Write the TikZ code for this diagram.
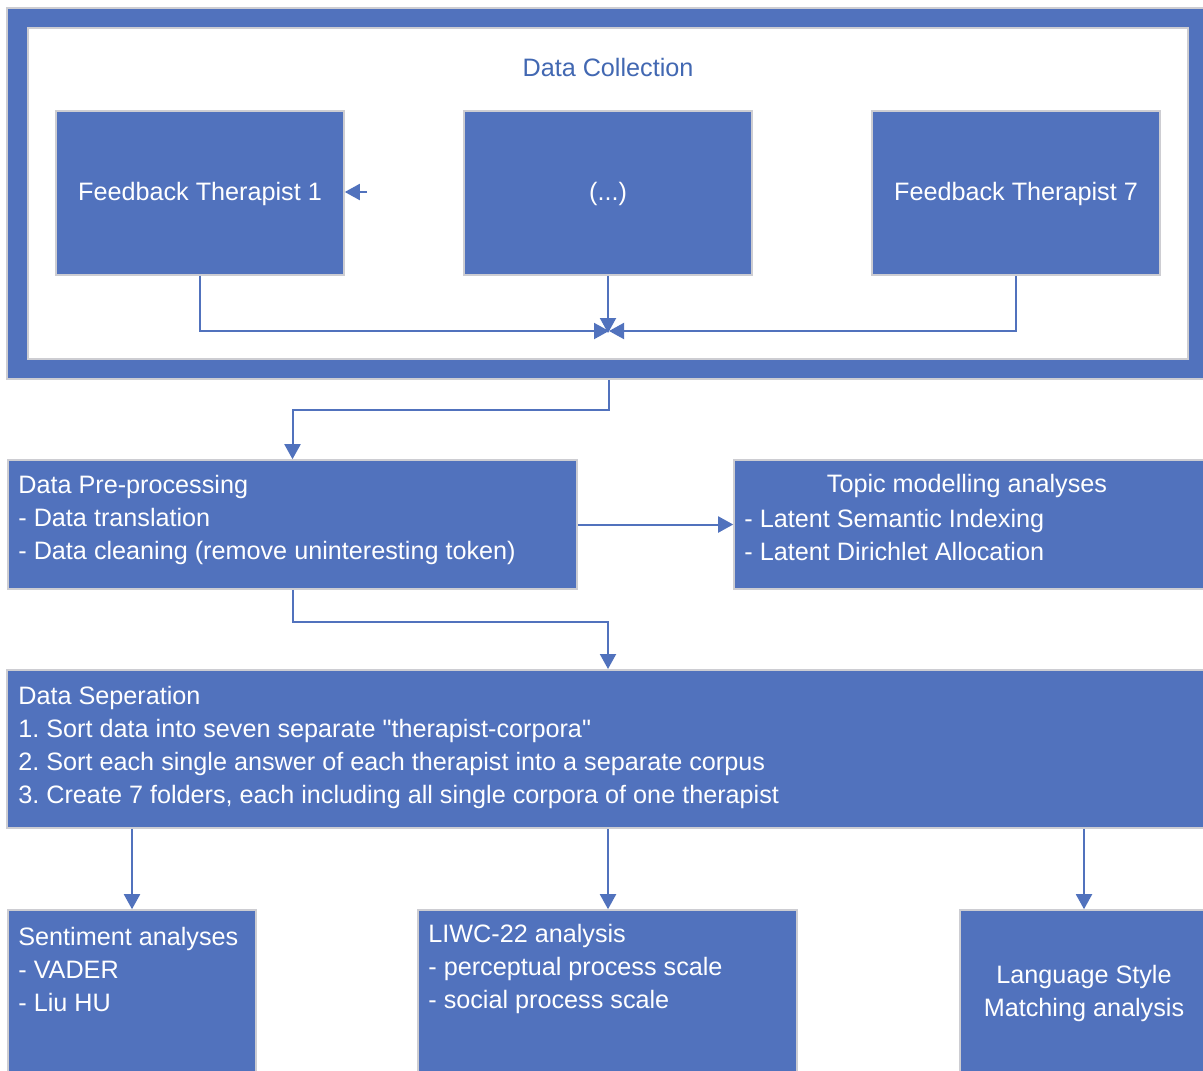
\documentclass[tikz,border=0pt]{standalone}
\usepackage{fontspec}
\setmainfont{Liberation Sans}
\newfontfamily\nolig{Liberation Sans}
\usetikzlibrary{arrows.meta}
\definecolor{boxblue}{RGB}{81,114,189}
\definecolor{titleblue}{RGB}{66,104,178}
\definecolor{edgegray}{RGB}{205,205,210}
\frenchspacing
\tikzset{
  px/.style={x=0.5pt,y=-0.5pt},
  bluebox/.style={rectangle,fill=boxblue,draw=edgegray,line width=0.8pt,inner sep=0pt},
  txt/.style={text=white,inner sep=0pt,font=\fontsize{12.6}{16.5}\selectfont},
  conn/.style={draw=boxblue,line width=1pt,-{Triangle[length=7.5pt,width=8pt]}},
}
\begin{document}
\begin{tikzpicture}[px]
\clip (0,0) rectangle (1203,1070);
\fill[white] (0,0) rectangle (1203,1070);
% frame
\node[bluebox,minimum width=602pt,minimum height=185.5pt] (frame) at (609,193.5) {};
\node[rectangle,fill=white,draw=edgegray,line width=0.8pt,minimum width=580pt,minimum height=165.5pt] (inner) at (608,193.5) {};
\node[text=titleblue,inner sep=0pt,font=\fontsize{12.6}{16.5}\selectfont] (title) at (608,67) {Data Collection};
\node[bluebox,minimum width=144pt,minimum height=82pt] (ft1) at (200,193) {};
\node[bluebox,minimum width=144pt,minimum height=82pt] (ftm) at (608,193) {};
\node[bluebox,minimum width=144pt,minimum height=82pt] (ft7) at (1016,193) {};
\node[txt] (ft1t) at (200,194) {Feedback Therapist 1};
\node[txt] (ftmt) at (608,194) {(...)};
\node[txt] (ft7t) at (1016,194) {Feedback Therapist 7};
\coordinate (stray) at (367,192);
\coordinate (mL) at (609,331);
\coordinate (mT) at (608,333);
\draw[conn] (stray) -- (ft1.east |- stray);
\draw[conn] (ft1.south) |- (mL);
\draw[conn] (ft7.south) |- (mL);
\draw[conn] (ftm.south) -- (mT);
% pre-processing
\node[bluebox,minimum width=284.5pt,minimum height=64.5pt] (pre) at (292.5,524.5) {};
\node[txt,anchor=west,align=left] (pret) at (18,519.5) {Data Pre-processing\\- Data translation\\- Data cleaning (remove uninteresting token)};
\draw[conn] (frame.south) -- ++(0,30) -| (pre.north);
% topic
\node[bluebox,minimum width=240pt,minimum height=64.5pt] (topic) at (974,524.5) {};
\node[txt] (topict) at (967,486) {Topic modelling analyses};
\node[txt,anchor=west,align=left] (topicl) at (744,535) {- Latent Semantic Indexing\\- Latent Dirichlet Allocation};
\draw[conn] (pre.east) -- (topic.west);
% separation
\node[bluebox,minimum width=602pt,minimum height=79pt] (sep) at (609,749) {};
\node[txt,anchor=west,align=left] (sept) at (18,747) {Data Seperation\\1. Sort data into seven separate {\nolig"}therapist-corpora{\nolig"}\\2. Sort each single answer of each therapist into a separate corpus\\3. Create 7 folders, each including all single corpora of one therapist};
\coordinate (sepin) at (608,669);
\draw[conn] (pre.south) -- ++(0,32) -| (sepin);
% bottom boxes
\node[bluebox,minimum width=124pt,minimum height=90pt] (sent) at (132,1000) {};
\node[txt,anchor=west,align=left] (sentt) at (18,969) {Sentiment analyses\\- VADER\\- Liu HU};
\node[bluebox,minimum width=189.5pt,minimum height=90pt] (liwc) at (607.5,1000) {};
\node[txt,anchor=west,align=left] (liwct) at (428,969) {LIWC-22 analysis\\- perceptual process scale\\- social process scale};
\node[bluebox,minimum width=130pt,minimum height=90pt] (lsm) at (1090,1000) {};
\node[txt,align=center] (lsmt) at (1084,993.5) {Language Style\\Matching analysis};
\draw[conn] (sep.south -| sent) -- (sent.north);
\draw[conn] (sep.south -| 608,0) -- (liwc.north -| 608,0);
\draw[conn] (sep.south -| 1084,0) -- (lsm.north -| 1084,0);
\end{tikzpicture}
\end{document}
